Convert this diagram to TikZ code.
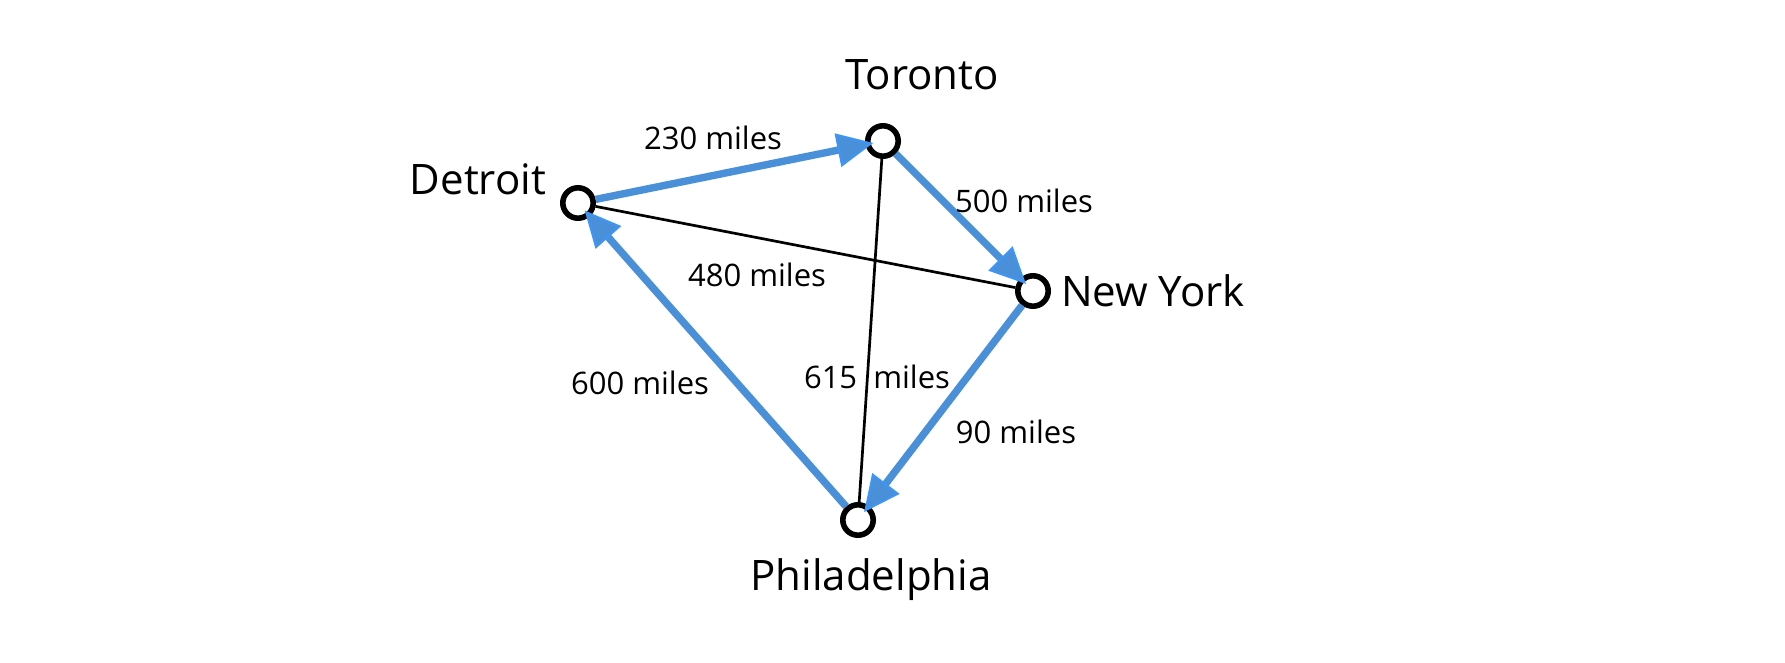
\documentclass[tikz,border=0pt]{standalone}
\usepackage{fontspec}
\setmainfont{Open Sans}
\usetikzlibrary{arrows.meta,positioning}
\definecolor{edgeblue}{HTML}{4A90D9}
\definecolor{tipblue}{HTML}{3D96F7}

\begin{document}
\begin{tikzpicture}[
    x=1pt, y=1pt,
    city/.style={circle, draw, line width=5.6pt, fill=white, minimum size=30.4pt, inner sep=0pt},
    cityname/.style={font=\fontsize{42}{50}\selectfont, inner sep=0pt},
    dist/.style={font=\fontsize{31}{37}\selectfont, inner sep=0pt},
    route/.style={edgeblue, line width=7.4pt, shorten >=-8pt, -{Triangle[length=36pt, width=34pt, fill=edgeblue, color=tipblue, line width=2pt]}},
    link/.style={line width=2.7pt}
]
    \useasboundingbox (0,0) rectangle (1785,662);

    % Cities
    \node[city] (detroit) at (578,459) {};
    \node[city] (toronto) at (883,521) {};
    \node[city] (newyork) at (1033,371) {};
    \node[city] (philly) at (858,142) {};

    % City names
    \node[cityname] (detroitname) at (478,483) {Detroit};
    \node[cityname] (torontoname) at (922,587) {Toronto};
    \node[cityname] (newyorkname) at (1153,371) {New York};
    \node[cityname] (phillyname) at (871,82) {Philadelphia};

    % Direct links
    \draw[link] (detroit) -- (newyork);
    \draw[link] (toronto) -- (philly);

    % Round trip
    \draw[route] (detroit) -- (toronto);
    \draw[route] (toronto) -- (newyork);
    \draw[route] (newyork) -- (philly);
    \draw[route] (philly) -- (detroit);

    % Distances
    \node[dist] (dtor) at (713,524) {230 miles};
    \node[dist] (dtny) at (1024,461) {500 miles};
    \node[dist] (dtdny) at (757,387) {480 miles};
    \node[dist] (dtphd) at (640,279) {600 miles};
    \node[dist] (dtorph) at (877,285) {615\ \ miles};
    \node[dist] (dnyph) at (1016,230) {90 miles};
\end{tikzpicture}
\end{document}
